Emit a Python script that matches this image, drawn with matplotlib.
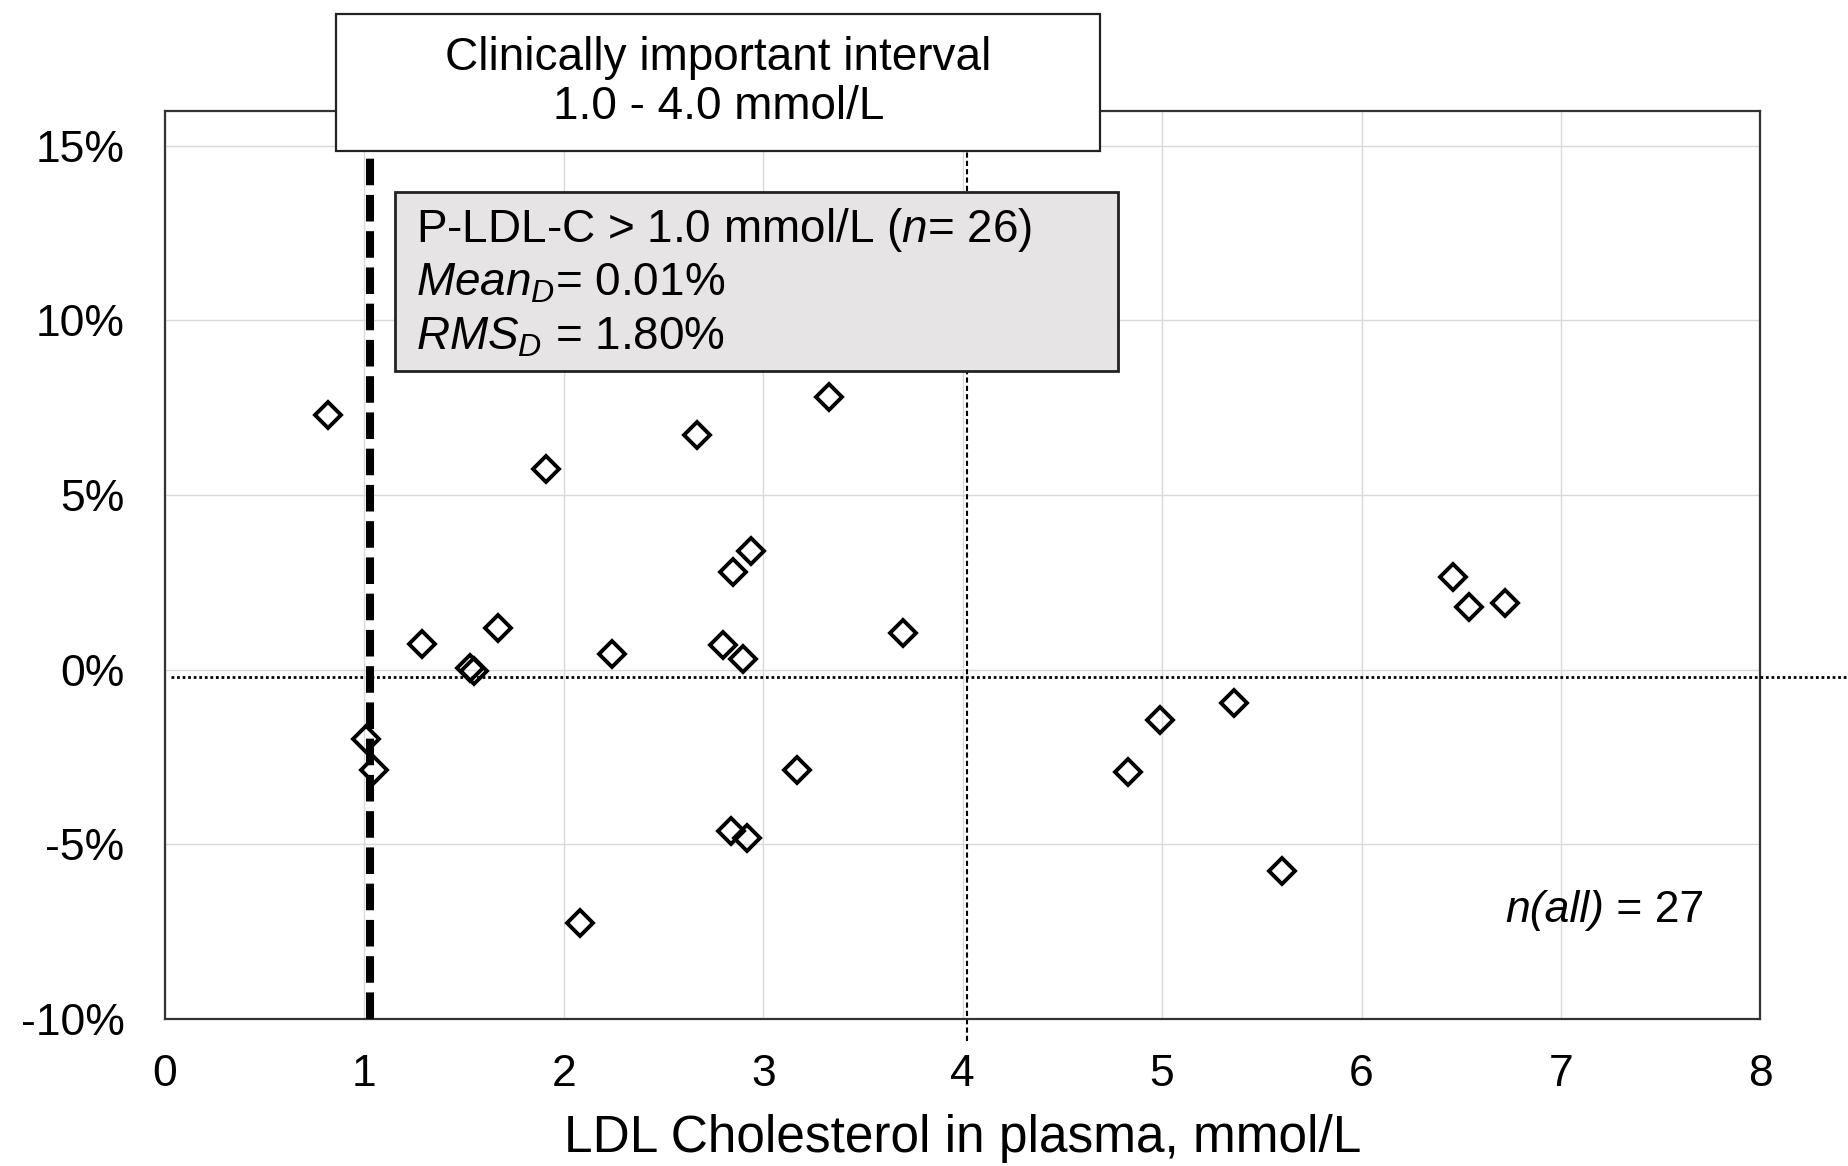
import matplotlib
matplotlib.use("Agg")
import matplotlib.pyplot as plt
from matplotlib.patches import Rectangle

plt.rcParams['font.family'] = ['Liberation Sans', 'DejaVu Sans']
plt.rcParams['mathtext.fontset'] = 'custom'
plt.rcParams['mathtext.rm'] = 'Liberation Sans'
plt.rcParams['mathtext.it'] = 'Liberation Sans:italic'

# LDL cholesterol (mmol/L) and relative difference (%)
ldl = [0.82, 1.01, 1.05, 1.29, 1.53, 1.55, 1.67, 1.91, 2.08, 2.24,
       2.67, 2.80, 2.84, 2.85, 2.90, 2.92, 2.94, 3.17, 3.33, 3.70,
       4.83, 4.99, 5.36, 5.60, 6.46, 6.54, 6.72]
diff = [7.30, -1.99, -2.87, 0.74, 0.05, -0.05, 1.19, 5.75, -7.26, 0.45,
        6.72, 0.69, -4.61, 2.78, 0.31, -4.82, 3.39, -2.87, 7.80, 1.04,
        -2.92, -1.44, -0.95, -5.76, 2.65, 1.79, 1.90]

mean_line = -0.22
interval = [1.03, 4.02]
x_ticks = [0, 1, 2, 3, 4, 5, 6, 7, 8]
y_ticks = [-10, -5, 0, 5, 10, 15]

fig = plt.figure(figsize=(18.49, 11.66), dpi=100)
ax = fig.add_axes([0.0892, 0.1262, 0.8629, 0.7788])

ax.set_xlim(0, 8)
ax.set_ylim(-10, 16)
ax.set_xticks(x_ticks)
ax.set_yticks(y_ticks)
ax.set_yticklabels([f"{v}%" for v in y_ticks])
ax.tick_params(axis='both', length=0, labelsize=32)
ax.tick_params(axis='y', pad=29)
ax.tick_params(axis='x', pad=25)
ax.grid(True, color='#d9d9d9', lw=1.0)
ax.set_axisbelow(True)
for s in ax.spines.values():
    s.set_color('#333333')
    s.set_linewidth(1.6)

# reference lines
ax.plot([0.03, 8.45], [mean_line, mean_line], color='black', lw=2.0,
        linestyle=(0, (1, 1)), dash_capstyle='butt', clip_on=False, zorder=3)
ax.plot([interval[1], interval[1]], [-10.63, 15.5], color='black', lw=1.5,
        linestyle=(0, (2.5, 1.5)), clip_on=False, zorder=2)

# stats box
ax.add_patch(Rectangle((1.153, 8.54), 3.624, 5.13, facecolor='#e6e4e4',
                       edgecolor='#222222', lw=2.0, zorder=4))
stats = ["P-LDL-C > 1.0 mmol/L ($n$= 26)",
         "$Mean_D$= 0.01%",
         "$RMS_D$ = 1.80%"]
for i, line in enumerate(stats):
    ax.text(1.26, 12.6 - i * 1.55, line, fontsize=33, va='center', ha='left', zorder=5)

ax.plot(ldl, diff, linestyle='none', marker='D', markersize=13,
        markerfacecolor='none', markeredgecolor='black', markeredgewidth=2.8,
        zorder=6, clip_on=False)

ax.plot([interval[0], interval[0]], [-10, 15.5], color='black', lw=5.8,
        linestyle=(0, (3.3, 1.2)), dash_capstyle='butt', clip_on=False, zorder=7)

# clinically important interval box
ax.add_patch(Rectangle((0.86, 14.84), 3.83, 3.93, facecolor='white',
                       edgecolor='#222222', lw=1.6, zorder=8, clip_on=False))
ax.text(2.775, 16.8, "Clinically important interval\n1.0 - 4.0 mmol/L",
        fontsize=33, ha='center', va='center', linespacing=1.15, zorder=9)

# n(all) label: italic part placed left of the plain part
fig.canvas.draw()
renderer = fig.canvas.get_renderer()
t_eq = ax.text(7.72, -6.9, " = 27", fontsize=32, ha='right', va='center', zorder=5)
bb = t_eq.get_window_extent(renderer=renderer)
ax.annotate("n(all)", xy=(bb.x0, (bb.y0 + bb.y1) / 2), xycoords='figure pixels',
            fontsize=32, fontstyle='italic', ha='right', va='center', zorder=5)

fig.text(0.5206, 0.024, "LDL Cholesterol in plasma, mmol/L", fontsize=37,
         ha='center', va='center')

fig.savefig("out.png", dpi=100)
